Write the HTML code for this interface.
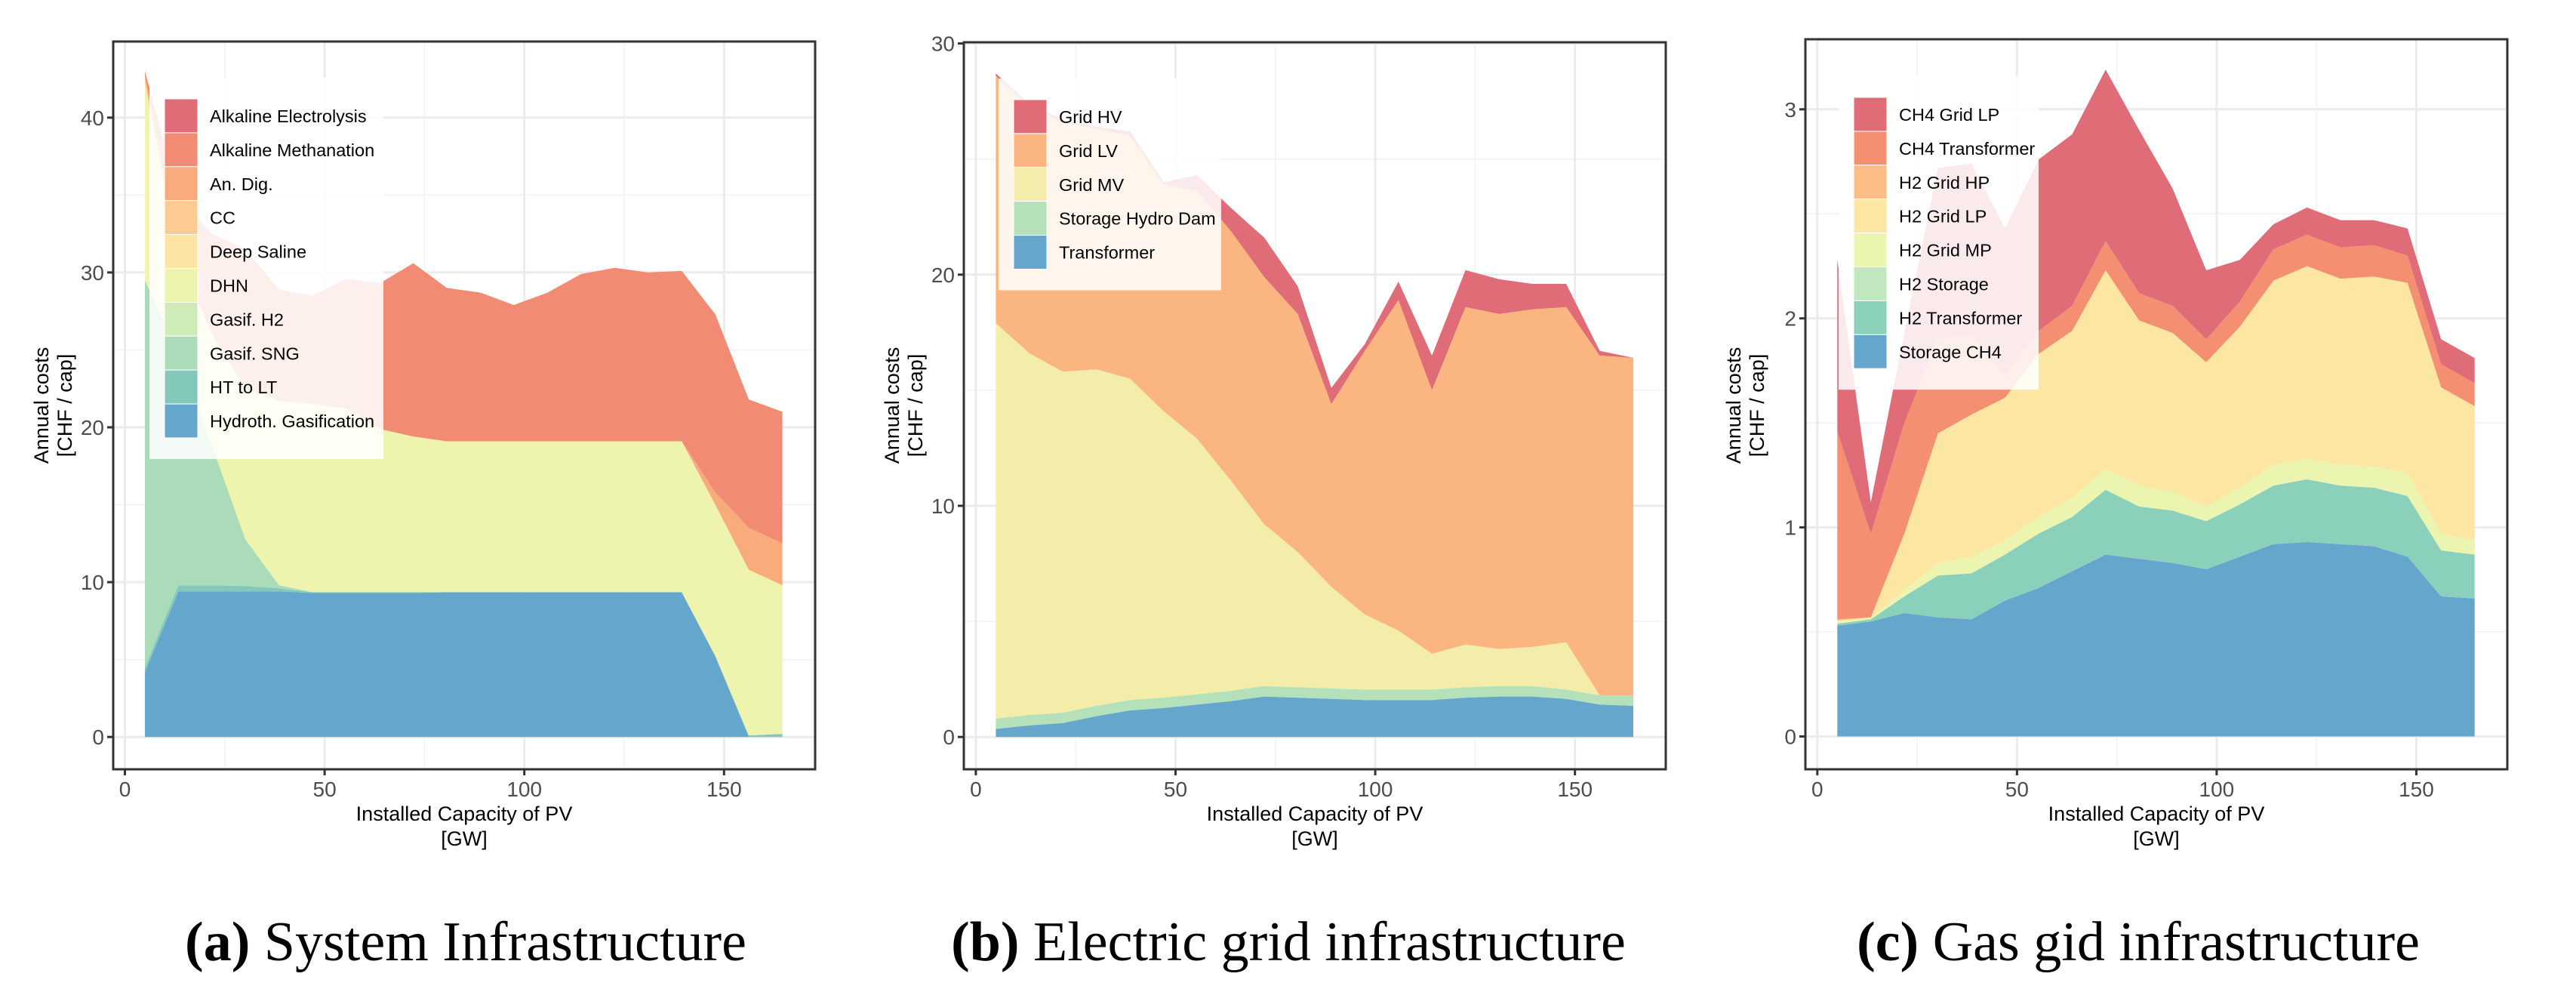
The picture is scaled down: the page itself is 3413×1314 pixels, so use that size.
<!DOCTYPE html>
<html><head><meta charset="utf-8">
<style>
html,body{margin:0;padding:0;background:#fff;}
svg{display:block;}
text{font-family:"Liberation Sans",sans-serif;}
.cap{font-family:"Liberation Serif",serif;font-size:74px;fill:#000;}
</style></head>
<body>
<svg id="fig" width="3413" height="1314" viewBox="0 0 3413 1314" xmlns="http://www.w3.org/2000/svg">
<text class="cap" x="617" y="1272" text-anchor="middle"><tspan font-weight="bold">(a)</tspan> System Infrastructure</text>
<text class="cap" x="1707" y="1272" text-anchor="middle"><tspan font-weight="bold">(b)</tspan> Electric grid infrastructure</text>
<text class="cap" x="2833" y="1272" text-anchor="middle"><tspan font-weight="bold">(c)</tspan> Gas gid infrastructure</text>
</svg>
<script>
// shared x values (GW)
const xValues = [5,13.4,21.8,30.2,38.6,47,55.4,63.8,72.2,80.6,89,97.4,105.8,114.2,122.6,131,139.4,147.8,156.2,164.6];
const xTicks = [0,50,100,150];

// Panel a - layer values (bottom to top)
const aLabels = ["Hydroth. Gasification","HT to LT","Gasif. SNG","Gasif. H2","DHN","Deep Saline","CC","An. Dig.","Alkaline Methanation","Alkaline Electrolysis"];
const aHydro = [4.2,9.4,9.4,9.4,9.4,9.3,9.3,9.3,9.3,9.35,9.35,9.35,9.35,9.35,9.35,9.35,9.35,5.2,0,0];
const aHtLt = [0.3,0.4,0.4,0.35,0.2,0.05,0.05,0.05,0.05,0,0,0,0,0,0,0,0,0.05,0.1,0.2];
const aSng = [25,15,9,3,0.2,0,0,0,0,0,0,0,0,0,0,0,0,0,0,0];
const aGasH2 = [0,0,0,0,0,0,0,0,0,0,0,0,0,0,0,0,0,0,0,0];
const aDhn = [12.5,6.2,7.2,9.75,11.9,12.15,11.85,10.55,10.05,9.75,9.75,9.75,9.75,9.75,9.75,9.75,9.75,9.75,10.7,9.6];
const aSaline = [0.3,0,0,0,0,0,0,0,0,0,0,0,0,0,0,0,0,0,0,0];
const aCc = [0.3,0,0,0,0,0,0,0,0,0,0,0,0,0,0,0,0,0,0,0];
const aAnDig = [0.2,0,0,0,0,0,0,0,0,0,0,0,0,0,0,0,0,0.8,2.7,2.7];
const aMeth = [0.2,4,6.5,9,7.2,7,8.4,9.4,11.2,9.9,9.6,8.8,9.6,10.8,11.2,10.9,11.0,11.5,8.3,8.5];
const aElec = [0,0,0,0,0,0,0,0,0,0,0,0,0,0,0,0,0,0,0,0];
const aYTicks = [0,10,20,30,40];

// Panel b
const bLabels = ["Transformer","Storage Hydro Dam","Grid MV","Grid LV","Grid HV"];
const bTransformer = [0.35,0.5,0.6,0.9,1.15,1.25,1.4,1.55,1.75,1.7,1.65,1.6,1.6,1.6,1.7,1.75,1.75,1.65,1.4,1.35];
const bDam = [0.45,0.45,0.45,0.45,0.45,0.45,0.45,0.45,0.45,0.45,0.45,0.45,0.45,0.45,0.45,0.45,0.45,0.4,0.4,0.45];
const bMv = [17.1,15.65,14.75,14.55,13.9,12.4,11.05,9.1,7.0,5.85,4.4,3.25,2.55,1.55,1.85,1.6,1.7,2.05,0,0];
const bLv = [10.7,10.7,10.8,10.4,10.5,9.8,10.7,10.8,10.7,10.3,7.9,11.4,14.3,11.4,14.6,14.5,14.6,14.5,14.7,14.6];
const bHv = [0.1,0.1,0.1,0.1,0.2,0.1,0.7,1.0,1.7,1.2,0.7,0.3,0.8,1.5,1.6,1.5,1.1,1.0,0.2,0];
const bYTicks = [0,10,20,30];

// Panel c
const cLabels = ["Storage CH4","H2 Transformer","H2 Storage","H2 Grid MP","H2 Grid LP","H2 Grid HP","CH4 Transformer","CH4 Grid LP"];
const cStorageCh4 = [0.53,0.55,0.59,0.57,0.56,0.65,0.71,0.79,0.87,0.85,0.83,0.80,0.86,0.92,0.93,0.92,0.91,0.86,0.67,0.66];
const cH2Transformer = [0.01,0.01,0.08,0.20,0.22,0.22,0.26,0.26,0.31,0.25,0.25,0.23,0.25,0.28,0.30,0.28,0.28,0.29,0.22,0.21];
const cH2Storage = [0,0,0,0,0,0,0,0,0,0,0,0,0,0,0,0,0,0,0,0];
const cH2GridMp = [0.01,0.005,0.03,0.06,0.08,0.07,0.08,0.09,0.10,0.10,0.09,0.07,0.08,0.10,0.10,0.10,0.10,0.11,0.08,0.07];
const cH2GridLp = [0.005,0.005,0.27,0.62,0.68,0.68,0.78,0.80,0.95,0.79,0.76,0.69,0.77,0.88,0.92,0.89,0.91,0.91,0.70,0.64];
const cH2GridHp = [0.005,0,0,0,0,0,0,0,0,0,0,0,0,0,0,0,0,0,0,0];
const cCh4Transformer = [0.9,0.4,0.53,0.45,0.38,0.10,0.11,0.12,0.14,0.13,0.13,0.11,0.12,0.15,0.15,0.15,0.15,0.13,0.11,0.11];
const cCh4GridLp = [0.82,0.15,0.43,0.82,0.82,0.71,0.82,0.82,0.82,0.78,0.56,0.33,0.20,0.12,0.13,0.13,0.12,0.13,0.12,0.12];
const cYTicks = [0,1,2,3];

const NS = "http://www.w3.org/2000/svg";
const svg = document.getElementById("fig");
function mk(tag, attrs, parent){
  const e = document.createElementNS(NS, tag);
  for (const k in attrs) e.setAttribute(k, attrs[k]);
  (parent||svg).appendChild(e);
  return e;
}

function panel(p){
  const g = mk("g", {});
  
  
  const X = v => p.x0 + v * p.xs;
  const Y = v => p.y0 - v * p.ys;
  const bg = mk("rect", {x:p.L, y:p.T, width:p.R-p.L, height:p.B-p.T, fill:"#fff"}, g);
  
  
  const grid = mk("g", {}, g);
  
  
  const yStep = p.yTicks[1]-p.yTicks[0];
  for (let i=0;i<p.yTicks.length;i++){
    const t = p.yTicks[i];
    mk("line", {x1:p.L, x2:p.R, y1:Y(t), y2:Y(t), stroke:"#ebebeb", "stroke-width":3}, grid);
    const m = t + yStep/2;
    if (Y(m) > p.T) mk("line", {x1:p.L, x2:p.R, y1:Y(m), y2:Y(m), stroke:"#f2f2f2", "stroke-width":1.5}, grid);
  }
  for (const t of xTicks){
    mk("line", {x1:X(t), x2:X(t), y1:p.T, y2:p.B, stroke:"#ebebeb", "stroke-width":3}, grid);
    const m = t + 25;
    if (X(m) < p.R) mk("line", {x1:X(m), x2:X(m), y1:p.T, y2:p.B, stroke:"#f2f2f2", "stroke-width":1.5}, grid);
  }
  const cum = xValues.map(()=>0);
  for (let s=0;s<p.series.length;s++){
    const vals = p.series[s];
    const lower = cum.slice();
    for (let i=0;i<vals.length;i++) cum[i] += vals[i];
    let pts = xValues.map((x,i)=>X(x).toFixed(1)+","+Y(cum[i]).toFixed(1));
    for (let i=xValues.length-1;i>=0;i--) pts.push(X(xValues[i]).toFixed(1)+","+Y(lower[i]).toFixed(1));
    const poly = mk("polygon", {points:pts.join(" "), fill:p.colors[s]}, g);
    
    
  }
  const lg = mk("g", {}, g);
  
  
  const n = p.labels.length;
  mk("rect", {x:p.lx, y:p.ly - 28, width:p.lw, height:n*44.9 + 56, fill:"rgba(255,255,255,0.86)"}, lg);
  for (let k=0;k<n;k++){
    const idx = n-1-k;
    const yy = p.ly + k*44.9;
    const key = mk("rect", {x:p.lx+20, y:yy, width:44, height:44.9, fill:p.colors[idx], stroke:"#fff", "stroke-width":1}, lg);
    
    
    const tx = mk("text", {x:p.lx+80, y:yy+31, "font-size":23.5, fill:"#000"}, lg);
    
    
    tx.textContent = p.labels[idx];
  }
  mk("rect", {x:p.L, y:p.T, width:p.R-p.L, height:p.B-p.T, fill:"none", stroke:"#333", "stroke-width":3}, g);
  const ax = mk("g", {}, g);
  
  
  for (const t of p.yTicks){
    mk("line", {x1:p.L-8, x2:p.L, y1:Y(t), y2:Y(t), stroke:"#333", "stroke-width":3}, ax);
    const tl = mk("text", {x:p.L-12, y:Y(t)+10, "font-size":28, fill:"#4d4d4d", "text-anchor":"end"}, ax);
    
    
    tl.textContent = t;
  }
  for (const t of xTicks){
    mk("line", {x1:X(t), x2:X(t), y1:p.B, y2:p.B+8, stroke:"#333", "stroke-width":3}, ax);
    const tl = mk("text", {x:X(t), y:p.B+36, "font-size":28, fill:"#4d4d4d", "text-anchor":"middle"}, ax);
    
    
    tl.textContent = t;
  }
  const cx = (p.L+p.R)/2;
  const xt = mk("text", {x:cx, y:1087, "font-size":27, fill:"#000", "text-anchor":"middle"}, ax);
  
  
  xt.textContent = "Installed Capacity of PV";
  const xu = mk("text", {x:cx, y:1120, "font-size":27, fill:"#000", "text-anchor":"middle"}, ax);
  
  
  xu.textContent = "[GW]";
  const cy = 537;
  const yt = mk("text", {x:0, y:0, "font-size":27, fill:"#000", "text-anchor":"middle", transform:`translate(${p.L-86},${cy}) rotate(-90)`}, ax);
  
  
  yt.textContent = "Annual costs";
  const yu = mk("text", {x:0, y:0, "font-size":27, fill:"#000", "text-anchor":"middle", transform:`translate(${p.L-55},${cy}) rotate(-90)`}, ax);
  
  
  yu.textContent = "[CHF / cap]";
}

panel({name:"chart-system-infrastructure", L:150, R:1080, T:55, B:1019, x0:165.5, xs:5.292, y0:976.2, ys:20.51,
  yTicks:aYTicks, labels:aLabels,
  series:[aHydro,aHtLt,aSng,aGasH2,aDhn,aSaline,aCc,aAnDig,aMeth,aElec],
  colors:["#65a6cd","#84c7bb","#abdcb9","#cfebb8","#eef4ae","#fce3a4","#fdca91","#f9ab7b","#f28b74","#e06c78"],
  lx:198, ly:131, lw:310});

panel({name:"chart-electric-grid", L:1277, R:2207, T:56, B:1019, x0:1292.9, xs:5.292, y0:976.2, ys:30.62,
  yTicks:bYTicks, labels:bLabels,
  series:[bTransformer,bDam,bMv,bLv,bHv],
  colors:["#65a6cd","#b4e0ba","#f3eda9","#fab581","#e06c78"],
  lx:1323, ly:132, lw:295});

panel({name:"chart-gas-grid", L:2392, R:3322, T:52, B:1019, x0:2407.8, xs:5.291, y0:975.5, ys:276.9,
  yTicks:cYTicks, labels:cLabels,
  series:[cStorageCh4,cH2Transformer,cH2Storage,cH2GridMp,cH2GridLp,cH2GridHp,cCh4Transformer,cCh4GridLp],
  colors:["#65a6cd","#8bd0ba","#c2e6bf","#ebf5b0","#fce6a2","#fdbd85","#f48f72","#e06c78"],
  lx:2436, ly:129, lw:265});
</script>
</body></html>
